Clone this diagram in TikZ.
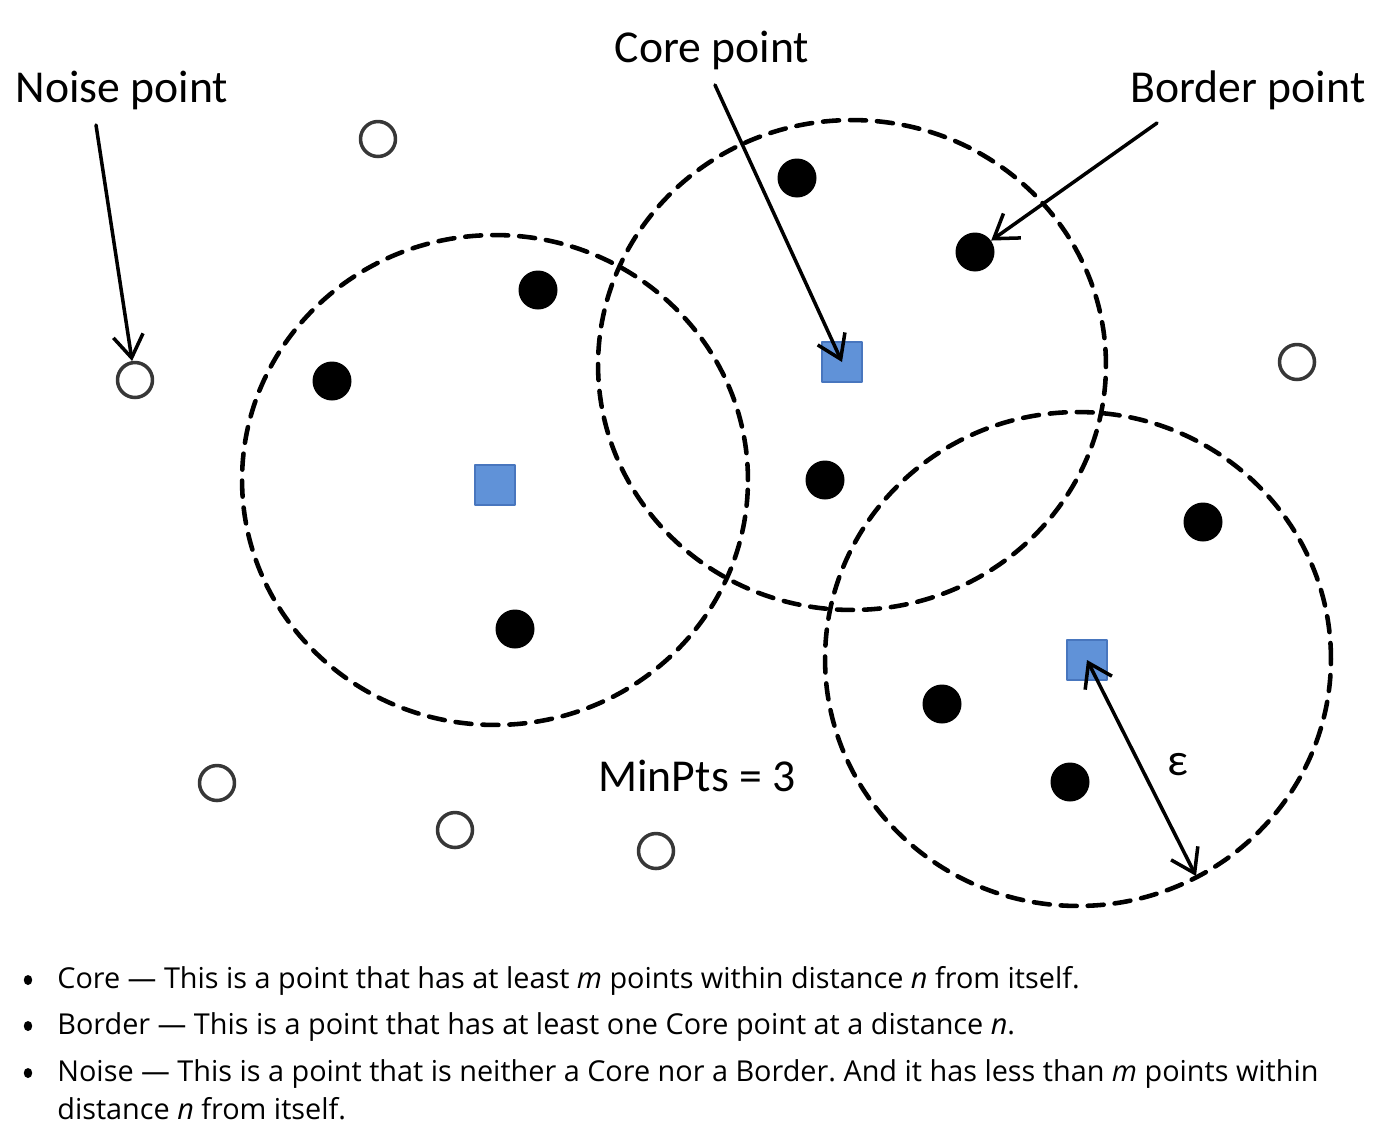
\documentclass[tikz,border=0pt]{standalone}
\usepackage{fontspec}
\setmainfont{Open Sans}
\newfontfamily\lblfont{Carlito}
\usetikzlibrary{arrows.meta}
\frenchspacing
\definecolor{corefill}{RGB}{96,146,216}
\definecolor{coreline}{RGB}{72,118,190}
\definecolor{noiseline}{RGB}{55,55,55}
\tikzset{
  corept/.style={rectangle,fill=corefill,draw=coreline,line width=0.6pt,minimum size=0.8cm,inner sep=0pt},
  borderpt/.style={circle,fill=black,minimum size=0.78cm,inner sep=0pt},
  noisept/.style={circle,draw=noiseline,fill=white,line width=2pt,minimum size=0.7cm,inner sep=0pt},
  lbl/.style={font=\lblfont\fontsize{26}{30}\selectfont,inner sep=0pt},
  region/.style={line width=2.6pt,dash pattern=on 0.32cm off 0.22cm},
  arr/.style={line width=2pt,-{Straight Barb[length=0.45cm,width=0.6cm]}},
  txt/.style={anchor=base west,inner sep=0pt,align=left,font=\fontsize{16.4}{21.5}\selectfont}
}
\begin{document}
\begin{tikzpicture}[x=0.02cm,y=-0.02cm, line join=round, line cap=round]
	\useasboundingbox (0,0) rectangle (1386,1140);
	% eps-neighbourhoods
	\draw[region] (495,480) ellipse [x radius=5.06cm, y radius=4.9cm];
	\draw[region] (852,365) ellipse [x radius=5.08cm, y radius=4.9cm];
	\draw[region] (1078,659) ellipse [x radius=5.06cm, y radius=4.94cm];
	% core points
	\node[corept] (c1) at (495,485) {};
	\node[corept] (c2) at (842,362) {};
	\node[corept] (c3) at (1087,660) {};
	% border points
	\node[borderpt] (b1) at (538,290) {};
	\node[borderpt] (b2) at (332,381) {};
	\node[borderpt] (b3) at (515,629) {};
	\node[borderpt] (b4) at (797,178) {};
	\node[borderpt] (b5) at (975,252) {};
	\node[borderpt] (b6) at (825,480) {};
	\node[borderpt] (b7) at (1203,522) {};
	\node[borderpt] (b8) at (942,704) {};
	\node[borderpt] (b9) at (1070,782) {};
	% noise points
	\node[noisept] (n1) at (378,139) {};
	\node[noisept] (n2) at (135,380) {};
	\node[noisept] (n3) at (1297,362) {};
	\node[noisept] (n4) at (217,783) {};
	\node[noisept] (n5) at (455,830) {};
	\node[noisept] (n6) at (656,851) {};
	% labels
	\node[lbl] (lnoise) at (122,90) {Noise point};
	\node[lbl] (lcore) at (712,50) {Core point};
	\node[lbl] (lborder) at (1248,90) {Border point};
	\node[lbl] (lminpts) at (697,776) {MinPts = 3};
	\node[lbl] (leps) at (1178,765) {ε};
	\coordinate (tnoise) at (96,125);
	\coordinate (tcore) at (715,85);
	\coordinate (tborder) at (1157,123);
	\coordinate (eps) at (1196,876);
	\draw[arr] (tnoise) -- (n2);
	\draw[arr] (tcore) -- (c2.center);
	\draw[arr] (tborder) -- (b5);
	\draw[arr,{Straight Barb[length=0.45cm,width=0.6cm]}-{Straight Barb[length=0.45cm,width=0.6cm]}] (c3.center) -- (eps);
	% definitions
	\fill (28,980) ellipse [x radius=0.085cm, y radius=0.1cm];
	\fill (28,1026) ellipse [x radius=0.085cm, y radius=0.1cm];
	\fill (28,1073) ellipse [x radius=0.085cm, y radius=0.1cm];
	\node[txt] (dcore) at (57,988) {Core — This is a point that has at least \textit{m} points within distance \textit{n} from itself.};
	\node[txt] (dborder) at (57,1034) {Border — This is a point that has at least one Core point at a distance \textit{n}.};
	\node[txt] (dnoise) at (57,1119) {Noise — This is a point that is neither a Core nor a Border. And it has less than \textit{m} points within\\distance \textit{n} from itself.};
\end{tikzpicture}
\end{document}
